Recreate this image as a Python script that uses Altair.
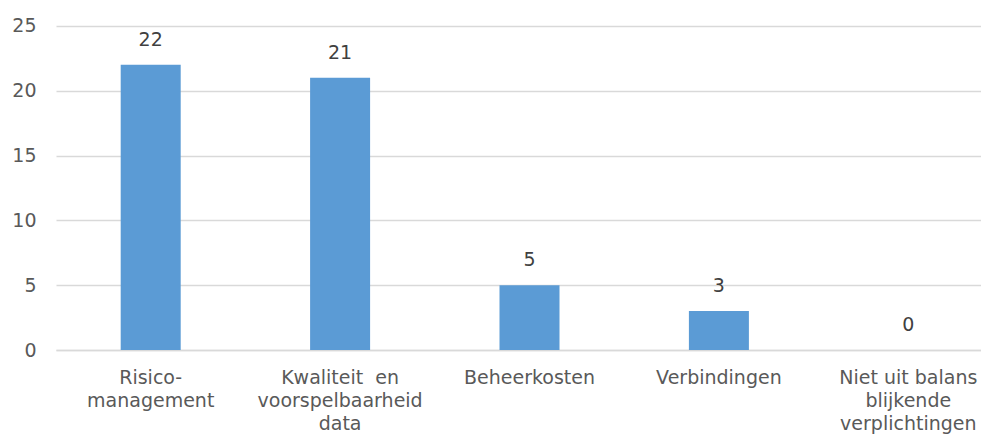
import altair as alt
import pandas as pd

categories = ["Risico-|management", "Kwaliteit\u00a0 en|voorspelbaarheid|data", "Beheerkosten",
              "Verbindingen", "Niet uit balans|blijkende|verplichtingen"]
values = [22, 21, 5, 3, 0]

df = pd.DataFrame({"cat": categories, "val": values})

font = "DejaVu Sans"
x = alt.X("cat:N", sort=categories, title=None,
          scale=alt.Scale(paddingInner=0, paddingOuter=0, range=[0, 947]),
          axis=alt.Axis(labelExpr="split(datum.label, '|')", labelAngle=0, labelFont=font,
                        labelFontSize=19, labelColor="#595959", labelLineHeight=23,
                        labelPadding=18, ticks=False, domainColor="#d9d9d9", domainWidth=1.5,
                        grid=False, labelLimit=300))
y = alt.Y("val:Q", title=None, scale=alt.Scale(domain=[0, 25]),
          axis=alt.Axis(values=[0, 5, 10, 15, 20, 25], labelFont=font, labelFontSize=19,
                        labelColor="#595959", labelPadding=20, ticks=False, domain=False,
                        gridColor="#d9d9d9", gridWidth=1.5))

base = alt.Chart(df)
bars = base.mark_bar(size=60, color="#5B9BD5").encode(x=x, y=y)
text = base.mark_text(dy=-15, baseline="bottom", font=font, fontSize=19, color="#404040").encode(
    x=alt.X("cat:N", sort=categories), y="val:Q", text="val:Q")

chart = (bars + text).properties(
    width=925, height=337,
    autosize=alt.AutoSizeParams(type="none"),
    padding={"left": 48, "top": 5, "right": 0, "bottom": 84},
).configure_view(stroke=None)

chart.save("out.html", embed_options={"renderer": "svg", "actions": False})
